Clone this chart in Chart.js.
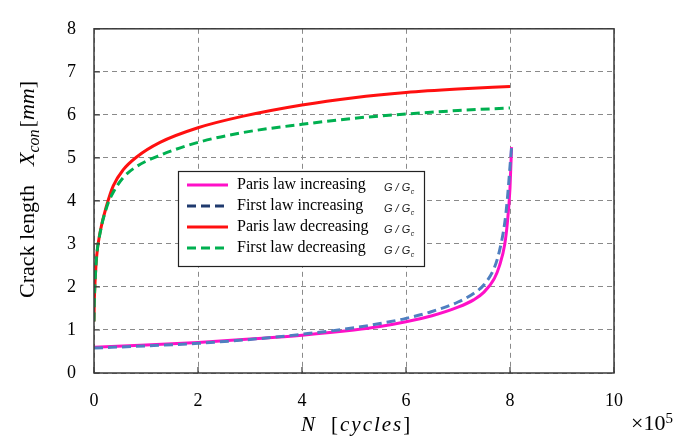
<!DOCTYPE html>
<html>
<head>
<meta charset="utf-8">
<title>Crack length vs cycles</title>
<script src="https://cdn.jsdelivr.net/npm/chart.js@4/dist/chart.umd.min.js"></script>
<style>
  html, body { margin: 0; padding: 0; background: #fff; }
  canvas { display: block; }
</style>
</head>
<body>
<canvas id="crack" width="683" height="441"></canvas>
<script>
// N in units of 1e5 cycles, crack length X_con in mm
const nIncreasing = [0, 1, 2, 3, 4, 5, 5.5, 6, 6.5, 7, 7.3, 7.5, 7.7, 7.8, 7.9, 7.95, 8.0, 8.03]
const parisIncreasing = [0.6, 0.65, 0.71, 0.79, 0.88, 1.0, 1.08, 1.19, 1.33, 1.53, 1.7, 1.88, 2.2, 2.5, 3.0, 3.5, 4.3, 5.25]
const firstIncreasing = [0.58, 0.63, 0.69, 0.78, 0.9, 1.05, 1.15, 1.27, 1.43, 1.65, 1.85, 2.05, 2.45, 2.85, 3.5, 4.05, 4.8, 5.25]

const nDecreasing = [0, 0.005, 0.02, 0.05, 0.12, 0.245, 0.37, 0.56, 0.82, 1.27, 2, 2.87, 4, 5, 6, 7, 8]
const parisDecreasing = [1.2, 1.6, 2.1, 2.7, 3.29, 3.9, 4.35, 4.72, 5.02, 5.36, 5.7, 5.97, 6.23, 6.4, 6.52, 6.6, 6.66]
const firstDecreasing = [1.2, 1.6, 2.1, 2.7, 3.27, 3.86, 4.2, 4.54, 4.8, 5.06, 5.36, 5.59, 5.78, 5.92, 6.02, 6.1, 6.16]

const xTicks = [0, 2, 4, 6, 8, 10]
const yTicks = [0, 1, 2, 3, 4, 5, 6, 7, 8]

const legendLabels = ["Paris law increasing", "First law increasing", "Paris law decreasing", "First law decreasing"]

const serif = "'Liberation Serif', 'Times New Roman', serif"
const sans = "'Liberation Sans', Arial, sans-serif"

const pts = (xs, ys) => xs.map((x, i) => ({ x, y: ys[i] }))

const line = (label, data, color, dash, order, legendColor) => ({
  label, data, order,
  borderColor: color,
  legendColor: legendColor || color,
  borderDash: dash,
  borderWidth: 3,
  showLine: true, fill: false,
  pointRadius: 0, pointHoverRadius: 0,
  cubicInterpolationMode: "monotone"
})

// frame, inward ticks, in-plot legend and the axis titles (subscripts need manual text)
const decorations = {
  id: "decorations",
  afterDatasetsDraw(chart) {
    const { ctx, chartArea: a, scales } = chart
    ctx.save()
    ctx.strokeStyle = "#3a3a3a"
    ctx.lineWidth = 1.5
    ctx.setLineDash([])
    ctx.strokeRect(a.left, a.top, a.right - a.left, a.bottom - a.top)
    ctx.lineWidth = 1.2
    ctx.beginPath()
    scales.x.ticks.forEach(t => {
      const px = scales.x.getPixelForValue(t.value)
      ctx.moveTo(px, a.bottom); ctx.lineTo(px, a.bottom - 6)
    })
    scales.y.ticks.forEach(t => {
      const py = scales.y.getPixelForValue(t.value)
      ctx.moveTo(a.left, py); ctx.lineTo(a.left + 6, py)
    })
    ctx.stroke()
    ctx.restore()
  },
  afterDraw(chart) {
    const { ctx } = chart
    ctx.save()

    // legend box
    const bx = 178.5, by = 171.5, bw = 246, bh = 95
    ctx.fillStyle = "#fff"
    ctx.fillRect(bx, by, bw, bh)
    ctx.strokeStyle = "#222"
    ctx.lineWidth = 1.2
    ctx.strokeRect(bx, by, bw, bh)

    chart.data.datasets.forEach((ds, row) => {
      const y = 185 + row * 21
      ctx.strokeStyle = ds.legendColor
      ctx.lineWidth = 3
      ctx.setLineDash(ds.borderDash || [])
      ctx.beginPath(); ctx.moveTo(187, y); ctx.lineTo(228, y); ctx.stroke()
      ctx.setLineDash([])
      ctx.fillStyle = "#000"
      ctx.textBaseline = "middle"
      ctx.textAlign = "left"
      ctx.font = "16px " + serif
      ctx.fillText(legendLabels[row], 237, y)
      ctx.font = "italic 11px " + sans
      ctx.fillStyle = "#222"
      ctx.fillText("G / G", 384, y + 3)
      const w = ctx.measureText("G / G").width
      ctx.font = "italic 7px " + sans
      ctx.fillText("c", 384 + w + 0.5, y + 7)
    })

    // y title, rotated
    ctx.fillStyle = "#000"
    ctx.translate(34, 298)
    ctx.rotate(-Math.PI / 2)
    ctx.textBaseline = "alphabetic"
    ctx.textAlign = "left"
    let x = 0
    const put = (txt, font, dy) => {
      ctx.font = font
      ctx.fillText(txt, x, dy || 0)
      x += ctx.measureText(txt).width
    }
    put("Crack length", "22px " + serif)
    x += 19
    put("X", "italic 22px " + serif)
    put("con", "italic 16px " + serif, 5)
    x += 2
    put("[", "22px " + serif)
    put("mm", "italic 22px " + serif)
    put("]", "22px " + serif)
    ctx.setTransform(1, 0, 0, 1, 0, 0)

    // x title
    x = 301
    const base = 431
    const putX = (txt, font, dy, spacing) => {
      ctx.font = font
      ctx.letterSpacing = spacing || "0px"
      ctx.fillText(txt, x, base + (dy || 0))
      x += ctx.measureText(txt).width
      ctx.letterSpacing = "0px"
    }
    putX("N", "italic 21px " + serif)
    x += 16
    putX("[", "21px " + serif)
    x += 2
    putX("cycles", "italic 21px " + serif, 0, "2px")
    putX("]", "21px " + serif)

    // exponent marker
    x = 631
    putX("\u00d710", "22px " + serif, -1)
    putX("5", "15px " + serif, -8)

    ctx.restore()
  }
}

new Chart(document.getElementById("crack"), {
  type: "scatter",
  data: {
    datasets: [
      line(legendLabels[0], pts(nIncreasing, parisIncreasing), "#ff10c8", [], 3),
      line(legendLabels[1], pts(nIncreasing, firstIncreasing), "#4f7fc0", [9, 5], 2, "#1f3a6e"),
      line(legendLabels[2], pts(nDecreasing, parisDecreasing), "#ff1010", [], 1),
      line(legendLabels[3], pts(nDecreasing, firstDecreasing), "#00b050", [9, 5], 0)
    ]
  },
  options: {
    responsive: false,
    animation: false,
    devicePixelRatio: 1,
    layout: { padding: { left: 0, top: 18, right: 69, bottom: 0 } },
    plugins: { legend: { display: false }, tooltip: { enabled: false } },
    scales: {
      x: {
        type: "linear", min: 0, max: 10,
        afterFit: s => { s.height = 68 },
        afterBuildTicks: s => { s.ticks = xTicks.map(v => ({ value: v })) },
        ticks: { color: "#000", font: { family: serif, size: 18 }, padding: 17, maxRotation: 0 },
        grid: { color: "#8a8a8a", lineWidth: 1, drawTicks: false },
        border: { display: false, dash: [5, 4] }
      },
      y: {
        type: "linear", min: 0, max: 8,
        afterFit: s => { s.width = 94 },
        afterBuildTicks: s => { s.ticks = yTicks.map(v => ({ value: v })) },
        ticks: { color: "#000", font: { family: serif, size: 18 }, padding: 18 },
        grid: { color: "#8a8a8a", lineWidth: 1, drawTicks: false },
        border: { display: false, dash: [5, 4] }
      }
    }
  },
  plugins: [decorations]
})
</script>
</body>
</html>
